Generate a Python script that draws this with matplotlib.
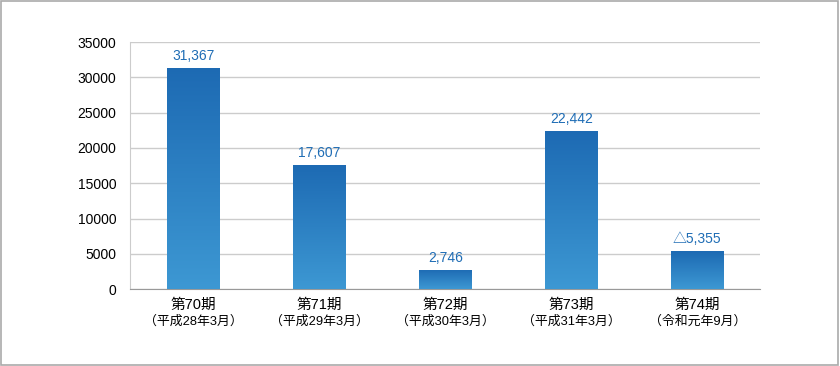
import matplotlib.pyplot as plt
import numpy as np
from matplotlib.patches import Rectangle
from matplotlib.colors import LinearSegmentedColormap

plt.rcParams['font.family'] = ['Liberation Sans', 'Noto Sans CJK JP', 'DejaVu Sans']

periods = ['第70期', '第71期', '第72期', '第73期', '第74期']
dates = ['（平成28年3月）', '（平成29年3月）', '（平成30年3月）', '（平成31年3月）', '（令和元年9月）']
values = [31367, 17607, 2746, 22442, 5355]
value_labels = ['31,367', '17,607', '2,746', '22,442', '△5,355']

fig = plt.figure(figsize=(8.4, 3.66), dpi=100)
ax = fig.add_axes([0.155, 0.21, 0.75, 0.675])

x = np.arange(len(values))
bars = ax.bar(x, values, width=0.42, color='none', zorder=3)

# vertical gradient: darker on top, lighter at bottom
grad = np.linspace(0, 1, 256).reshape(-1, 1)
cmap = LinearSegmentedColormap.from_list('bl', ['#3d98d3', '#1d6ab3'])
for b in bars:
    bx, by = b.get_x(), b.get_y()
    w, h = b.get_width(), b.get_height()
    im = ax.imshow(grad, cmap=cmap, aspect='auto', origin='lower',
                   extent=[bx, bx + w, by, by + h], zorder=3)
    im.set_clip_path(b)

for xi, v, lab in zip(x, values, value_labels):
    ax.text(xi, v + 700, lab, ha='center', va='bottom', fontsize=10, color='#1f6db5')

ax.set_xlim(-0.5, 4.5)
ax.set_ylim(0, 35000)
ax.set_yticks(range(0, 35001, 5000))
ax.tick_params(axis='y', length=0, labelsize=10, pad=10)
ax.yaxis.grid(True, color='#cccccc', linewidth=1)
ax.set_axisbelow(True)
ax.set_xticks(x)
ax.set_xticklabels([''] * len(x))
ax.tick_params(axis='x', length=0)
for s in ['top', 'right']:
    ax.spines[s].set_visible(False)
ax.spines['left'].set_color('#cccccc')
ax.spines['bottom'].set_color('#999999')

for xi, p, d in zip(x, periods, dates):
    ax.text(xi, -0.035, p, transform=ax.get_xaxis_transform(), ha='center', va='top', fontsize=10.5)
    ax.text(xi, -0.105, d, transform=ax.get_xaxis_transform(), ha='center', va='top', fontsize=9.3)

fig.patches.append(Rectangle((0.001, 0.002), 0.997, 0.996, transform=fig.transFigure,
                             fill=False, edgecolor='#aaaaaa', linewidth=1.2))

plt.savefig('out.png', dpi=100)
